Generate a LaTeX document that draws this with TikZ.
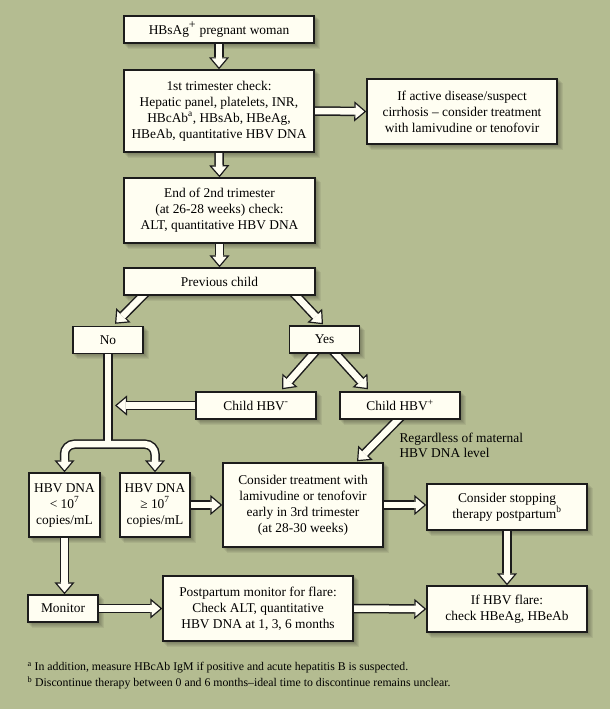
\documentclass[tikz,border=0pt]{standalone}
\usepackage{fontspec}
\setmainfont{Liberation Serif}
\usetikzlibrary{calc, arrows.meta}

\pgfdeclarelayer{back}
\pgfdeclarelayer{arrows}
\pgfsetlayers{back,arrows,main}

\begin{document}
\begin{tikzpicture}[x=1pt, y=-1pt,
    box/.style={draw=borderColour, fill=boxColour, line width=1.4pt, align=center, inner sep=2pt, font=\fontsize{13.4}{16}\selectfont},
    shaftout/.style={draw=borderColour, line width=9.5pt},
    shaftin/.style={draw=boxColour, line width=6.5pt},
    headtip/.style={draw=borderColour, line width=1.2pt, -{Triangle[length=12pt, width=20pt, fill=boxColour]}}]

    \definecolor{bgColour}{HTML}{B4BC91}
    \definecolor{boxColour}{HTML}{FFFEF2}
    \definecolor{borderColour}{HTML}{1C1C1C}

    % Hollow block arrow from #1 to #2
    \def\blockarrow#1#2{%
        \begin{pgfonlayer}{arrows}
            \draw[shaftout] (#1) -- ($(#2)!12pt!(#1)$);
            \draw[headtip] ($(#2)!15pt!(#1)$) -- (#2);
            \draw[shaftin] (#1) -- ($(#2)!10.5pt!(#1)$);
        \end{pgfonlayer}}

    % Canvas
    \useasboundingbox (0,0) rectangle (610,709);
    \begin{pgfonlayer}{back}
        \fill[bgColour] (0,0) rectangle (610,709);
    \end{pgfonlayer}

    % Boxes
    \node[box, minimum width=190, minimum height=27] (preg) at (219,29.5) {HBsAg\textsuperscript{\large +} pregnant woman};
    \node[box, minimum width=190, minimum height=82] (first) at (219,111) {1st trimester check:\\Hepatic panel, platelets, INR,\\HBcAb\textsuperscript{a}, HBsAb, HBeAg,\\HBeAb, quantitative HBV DNA};
    \node[box, minimum width=190, minimum height=65] (active) at (462,111.5) {If active disease/suspect\\cirrhosis – consider treatment\\with lamivudine or tenofovir};
    \node[box, minimum width=191, minimum height=65] (second) at (219.5,210.5) {End of 2nd trimester\\(at 26-28 weeks) check:\\ALT, quantitative HBV DNA};
    \node[box, minimum width=191, minimum height=27] (prev) at (219.5,281.5) {Previous child};
    \node[box, minimum width=70, minimum height=27] (no) at (108,340) {No};
    \node[box, minimum width=70, minimum height=27] (yes) at (324.5,339.5) {Yes};
    \node[box, minimum width=120, minimum height=27] (childneg) at (256,405.5) {Child HBV\textsuperscript{-}};
    \node[box, minimum width=120, minimum height=27] (childpos) at (400,405.5) {Child HBV\textsuperscript{+}};
    \node[box, minimum width=71, minimum height=64] (low) at (64.5,505) {HBV DNA\\< 10\textsuperscript{7}\\copies/mL};
    \node[box, minimum width=70, minimum height=64] (high) at (155,505) {HBV DNA\\≥ 10\textsuperscript{7}\\copies/mL};
    \node[box, minimum width=160, minimum height=84] (treat) at (303,505) {Consider treatment with\\lamivudine or tenofovir\\early in 3rd trimester\\(at 28-30 weeks)};
    \node[box, minimum width=160, minimum height=46] (stop) at (507,507) {Consider stopping\\therapy postpartum\textsuperscript{b}};
    \node[box, minimum width=70, minimum height=27] (monitor) at (63,608.5) {Monitor};
    \node[box, minimum width=190, minimum height=65] (post) at (258,608.5) {Postpartum monitor for flare:\\Check ALT, quantitative\\HBV DNA at 1, 3, 6 months};
    \node[box, minimum width=160, minimum height=46] (flare) at (507,609) {If HBV flare:\\check HBeAg, HBeAb};

    % Soft shadows under the boxes
    \begin{pgfonlayer}{back}
        \foreach \n in {preg,first,active,second,prev,no,yes,childneg,childpos,low,high,treat,stop,monitor,post,flare}
            \foreach \s in {1,...,5}
                \fill[black, opacity=0.06] ([shift={(\s,\s)}]\n.north west) rectangle ([shift={(\s,\s)}]\n.south east);
    \end{pgfonlayer}

    % Arrow end points
    \coordinate (prevL) at ($(prev.south)+(-71.8,-5)$);
    \coordinate (prevR) at ($(prev.south)+(72,-5)$);
    \coordinate (noTop) at ($(no.north)+(7,-2)$);
    \coordinate (yesTop) at ($(yes.north)+(-1.5,-1)$);
    \coordinate (yesL) at ($(yes.south)+(-6.7,-5)$);
    \coordinate (yesR) at ($(yes.south)+(6.6,-5)$);
    \coordinate (negTop) at ($(childneg.north)+(26,-2)$);
    \coordinate (posTop) at ($(childpos.north)+(-32,-2)$);
    \coordinate (posBot) at ($(childpos.south)+(2.8,-5)$);
    \coordinate (treatTop) at ($(treat.north)+(54,-1)$);
    \coordinate (split) at ($(no.south)+(0,90)$);
    \coordinate (noLine) at ($(no.south |- childneg.west)+(7,0)$);
    \coordinate (stopIn) at (stop.west |- treat.east);
    \coordinate (monIn) at (low.south |- monitor.north);

    % Branch below "No"
    \begin{pgfonlayer}{arrows}
        \draw[shaftout] (no.south) -- (split);
        \draw[shaftout, rounded corners=10pt] ($(low.north)+(0,-12)$) |- (split) -| ($(high.north)+(0,-12)$);
        \draw[headtip] ($(low.north)+(0,-15)$) -- (low.north);
        \draw[headtip] ($(high.north)+(0,-15)$) -- (high.north);
        \draw[shaftin] (no.south) -- (split);
        \draw[shaftin, rounded corners=10pt] ($(low.north)+(0,-10.5)$) |- (split) -| ($(high.north)+(0,-10.5)$);
    \end{pgfonlayer}

    % Arrows
    \blockarrow{preg.south}{first.north}
    \blockarrow{first.east}{active.west}
    \blockarrow{first.south}{second.north}
    \blockarrow{second.south}{prev.north}
    \blockarrow{prevL}{noTop}
    \blockarrow{prevR}{yesTop}
    \blockarrow{yesL}{negTop}
    \blockarrow{yesR}{posTop}
    \blockarrow{childneg.west}{noLine}
    \blockarrow{posBot}{treatTop}
    \blockarrow{high.east}{treat.west}
    \blockarrow{treat.east}{stopIn}
    \blockarrow{stop.south}{flare.north}
    \blockarrow{low.south}{monIn}
    \blockarrow{monitor.east}{post.west}
    \blockarrow{post.east}{flare.west}

    % Note beside the arrow
    \node[anchor=west, align=left, font=\fontsize{13.4}{15}\selectfont] (note) at (396,445.5) {Regardless of maternal\\HBV DNA level};

    % Footnotes
    \node[anchor=west, font=\fontsize{11.8}{13}\selectfont] (fna) at (24,668) {\textsuperscript{a} In addition, measure HBcAb IgM if positive and acute hepatitis B is suspected.};
    \node[anchor=west, font=\fontsize{11.8}{13}\selectfont] (fnb) at (24,683) {\textsuperscript{b} Discontinue therapy between 0 and 6 months–ideal time to discontinue remains unclear.};

\end{tikzpicture}
\end{document}
